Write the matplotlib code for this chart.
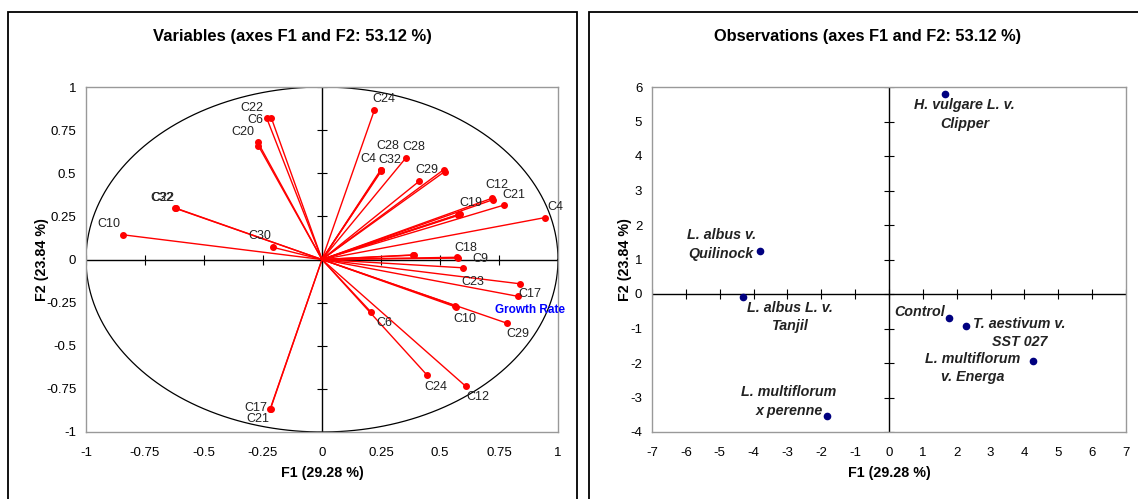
import numpy as np
import matplotlib.pyplot as plt
from matplotlib.patches import Rectangle

plt.rcParams['font.family'] = ['Liberation Sans', 'DejaVu Sans']
plt.rcParams['axes.unicode_minus'] = False

# variables: correlations with F1 / F2
var_labels = ['C22', 'C6', 'C20', '', 'C32', 'C22', 'C10', 'C30', 'C17', 'C21',
              'C24', 'C4', 'C32', 'C28', 'C28', 'C29', '', '', 'C12', '',
              'C21', 'C19', '', '', 'C4', 'C18', 'C9', '', '', 'C23',
              'C17', 'Growth Rate', 'C10', '', 'C29', 'C6', 'C24', 'C12']
var_f1 = [-0.235, -0.215, -0.272, -0.270, -0.622, -0.620, -0.842, -0.206, -0.219, -0.218,
          0.222, 0.250, 0.252, 0.248, 0.356, 0.412, 0.515, 0.520, 0.723, 0.722,
          0.770, 0.582, 0.578, 0.586, 0.945, 0.571, 0.575, 0.384, 0.390, 0.596,
          0.840, 0.832, 0.568, 0.565, 0.783, 0.208, 0.443, 0.610]
var_f2 = [0.822, 0.822, 0.680, 0.660, 0.297, 0.298, 0.143, 0.070, -0.864, -0.865,
          0.866, 0.516, 0.514, 0.518, 0.590, 0.454, 0.520, 0.510, 0.346, 0.356,
          0.315, 0.261, 0.256, 0.265, 0.243, 0.013, 0.008, 0.025, 0.027, -0.048,
          -0.141, -0.214, -0.276, -0.268, -0.369, -0.305, -0.667, -0.736]

# observations: factor scores
obs_labels = ['H. vulgare L. v.\nClipper', 'L. albus v.\nQuilinock', 'L. albus L. v.\nTanjil',
              'Control', 'T. aestivum v.\nSST 027', 'L. multiflorum\nv. Energa',
              'L. multiflorum\nx perenne']
obs_f1 = [1.64, -3.80, -4.31, 1.76, 2.26, 4.25, -1.83]
obs_f2 = [5.81, 1.26, -0.08, -0.71, -0.93, -1.94, -3.55]

var_ticks = [-1, -0.75, -0.5, -0.25, 0, 0.25, 0.5, 0.75, 1]
var_tick_labels = ['-1', '-0.75', '-0.5', '-0.25', '0', '0.25', '0.5', '0.75', '1']
obs_xticks = list(range(-7, 8))
obs_yticks = list(range(-4, 7))

# label offsets in pixels (dx, dy)
var_offsets = [(-15, 10), (-16, -2), (-15, 10), (0, 0), (-13, 10), (-13, 10), (-14, 11), (-14, 11),
               (-14, 1), (-13, -10), (9, 11), (-13, 11), (8, 11), (7, 24), (8, 11), (8, 11),
               (0, 0), (0, 0), (4, 15), (0, 0), (10, 10), (12, 11), (0, 0), (0, 0), (10, 11),
               (9, 9), (23, -1), (0, 0), (0, 0), (10, -14), (10, -10), (12, -14), (9, -12),
               (0, 0), (11, -11), (13, -11), (9, -12), (12, -11)]
obs_offsets = [(20, -21), (-39, 6), (47, -20), (-29, 6), (54, -7), (-60, -7), (-38, 15)]

W, H = 1138, 499
fig = plt.figure(figsize=(W / 100, H / 100), dpi=100)

# panel borders
fig.add_artist(Rectangle((8 / W, -0.02), 569 / W, 1.02 - 12 / H, transform=fig.transFigure,
                         fill=False, ec='black', lw=1.3))
fig.add_artist(Rectangle((589 / W, -0.02), 560 / W, 1.02 - 12 / H, transform=fig.transFigure,
                         fill=False, ec='black', lw=1.3))

ax1 = fig.add_axes([86 / W, 1 - 432 / H, 472 / W, 345 / H])
ax2 = fig.add_axes([652 / W, 1 - 432 / H, 474 / W, 345 / H])


def style_axes(ax, xt, yt, xlab=None):
    for s in ax.spines.values():
        s.set_color('#999999')
        s.set_linewidth(1)
    ax.axhline(0, color='black', lw=1, zorder=1)
    ax.axvline(0, color='black', lw=1, zorder=1)
    ax.plot(xt, np.zeros(len(xt)), ls='none', marker='|', ms=7, mew=0.8, color='black', zorder=1)
    ax.plot(np.zeros(len(yt)), yt, ls='none', marker='_', ms=7, mew=0.8, color='black', zorder=1)
    ax.set_xticks(xt)
    ax.set_yticks(yt)
    if xlab:
        ax.set_xticklabels(xlab)
        ax.set_yticklabels(xlab)
    ax.tick_params(length=0, labelsize=9.5, colors='black')
    ax.tick_params(axis='x', pad=11)
    ax.tick_params(axis='y', pad=7)


# left: correlation circle
t = np.linspace(0, 2 * np.pi, 400)
ax1.plot(np.cos(t), np.sin(t), color='black', lw=0.9)
for f1, f2 in zip(var_f1, var_f2):
    ax1.plot([0, f1], [0, f2], color='red', lw=1, zorder=2)
ax1.plot(var_f1, var_f2, 'o', color='red', ms=4, zorder=3)
for lab, f1, f2, off in zip(var_labels, var_f1, var_f2, var_offsets):
    if not lab:
        continue
    if lab == 'Growth Rate':
        ax1.annotate(lab, (f1, f2), xytext=off, textcoords='offset pixels', ha='center', va='center',
                     fontsize=8.5, color='#0000ff', fontweight='bold')
    else:
        ax1.annotate(lab, (f1, f2), xytext=off, textcoords='offset pixels', ha='center', va='center',
                     fontsize=9, color='#222222')
ax1.set_xlim(-1, 1)
ax1.set_ylim(-1, 1)
style_axes(ax1, var_ticks, var_ticks, var_tick_labels)
ax1.set_xlabel('F1 (29.28 %)', fontsize=10.3, fontweight='bold')
ax1.set_ylabel('F2 (23.84 %)', fontsize=10.3, fontweight='bold')
ax1.xaxis.set_label_coords(0.5, -0.099)
ax1.yaxis.set_label_coords(-0.093, 0.5)
ax1.yaxis.label.set_va('center')

# right: observations
ax2.plot(obs_f1, obs_f2, 'o', color='#000080', ms=4.5, zorder=3)
for lab, f1, f2, off in zip(obs_labels, obs_f1, obs_f2, obs_offsets):
    ax2.annotate(lab, (f1, f2), xytext=off, textcoords='offset pixels', ha='center', va='center',
                 fontsize=10.3, fontweight='bold', fontstyle='italic', color='#222222', linespacing=1.4)
ax2.set_xlim(-7, 7)
ax2.set_ylim(-4, 6)
style_axes(ax2, obs_xticks, obs_yticks)
ax2.set_xlabel('F1 (29.28 %)', fontsize=10.3, fontweight='bold')
ax2.set_ylabel('F2 (23.84 %)', fontsize=10.3, fontweight='bold')
ax2.xaxis.set_label_coords(0.5, -0.099)
ax2.yaxis.set_label_coords(-0.058, 0.5)
ax2.yaxis.label.set_va('center')

fig.text(292.5 / W, 1 - 37 / H, 'Variables (axes F1 and F2: 53.12 %)', ha='center', va='center',
         fontsize=12, fontweight='bold')
fig.text(868 / W, 1 - 37 / H, 'Observations (axes F1 and F2: 53.12 %)', ha='center', va='center',
         fontsize=11.8, fontweight='bold')

fig.savefig('out.png', dpi=100)
